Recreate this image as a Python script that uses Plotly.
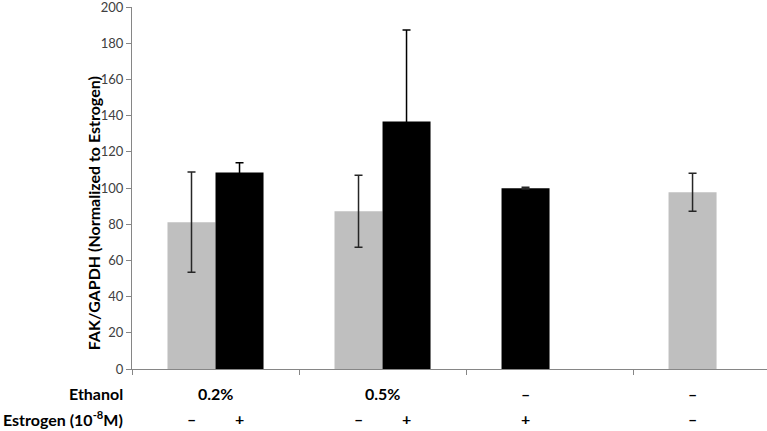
import plotly.graph_objects as go

# ---- data ----
groups = [0, 1, 2, 3]
left_vals = [81.1, 87.2, 99.9, 97.7]
left_err = [27.7, 19.9, 0.5, 10.5]
left_colors = ["#bfbfbf", "#bfbfbf", "#000000", "#bfbfbf"]
right_vals = [108.6, 136.7, None, None]
right_err = [5.3, 50.6, 0, 0]
ethanol_labels = ["0.2%", "0.5%", "–", "–"]
estrogen_left = ["–", "–", "+", "–"]
estrogen_right = ["+", "+", None, None]
y_ticks = [0, 20, 40, 60, 80, 100, 120, 140, 160, 180, 200]
y_title = "FAK/GAPDH (Normalized to Estrogen)"

FONT = "Lato"
BAR_OFF = 0.1437

fig = go.Figure()
fig.add_trace(go.Bar(
    x=groups, y=left_vals, marker=dict(color=left_colors, line=dict(width=0)),
    error_y=dict(type="data", array=left_err, visible=True, color="#262626",
                 thickness=1.5, width=4),
    showlegend=False, hoverinfo="skip"))
fig.add_trace(go.Bar(
    x=groups, y=right_vals, marker=dict(color="#000000", line=dict(width=0)),
    error_y=dict(type="data", array=right_err, visible=True, color="#000000",
                 thickness=1.5, width=4),
    showlegend=False, hoverinfo="skip"))

annotations = []
lab_font = dict(family=FONT, size=16, color="#000000")
y_eth = -0.0664
y_est = -0.1355
for g, eth, el, er in zip(groups, ethanol_labels, estrogen_left, estrogen_right):
    two = er is not None
    annotations.append(dict(x=g if two else g - BAR_OFF, y=y_eth, xref="x", yref="paper",
                            text="<b>%s</b>" % eth, showarrow=False, font=lab_font,
                            xanchor="center", yanchor="middle"))
    annotations.append(dict(x=g - BAR_OFF, y=y_est, xref="x", yref="paper",
                            text="<b>%s</b>" % el, showarrow=False, font=lab_font,
                            xanchor="center", yanchor="middle"))
    if two:
        annotations.append(dict(x=g + BAR_OFF, y=y_est, xref="x", yref="paper",
                                text="<b>%s</b>" % er, showarrow=False, font=lab_font,
                                xanchor="center", yanchor="middle"))
annotations.append(dict(x=-0.011, y=y_eth, xref="paper", yref="paper",
                        text="<b>Ethanol</b>", showarrow=False, font=lab_font,
                        xanchor="right", yanchor="middle"))
annotations.append(dict(x=-0.011, y=y_est, xref="paper", yref="paper",
                        text="<b>Estrogen (10<sup>-8</sup>M)</b>", showarrow=False, font=lab_font,
                        xanchor="right", yanchor="middle"))
annotations.append(dict(x=-0.0615, y=0.43, xref="paper", yref="paper",
                        text="<b>%s</b>" % y_title, showarrow=False, textangle=-90,
                        font=dict(family=FONT, size=16, color="#000000"),
                        xanchor="center", yanchor="middle"))

fig.update_layout(
    width=767, height=431,
    margin=dict(l=132, r=0, t=7, b=62),
    paper_bgcolor="white", plot_bgcolor="white",
    barmode="group", bargap=0.425, bargroupgap=0,
    annotations=annotations,
    xaxis=dict(range=[-0.5, 3.302], tickvals=[-0.5, 0.5, 1.5, 2.5, 3.5],
               ticks="outside", ticklen=5, tickcolor="#868686", showticklabels=False,
               showline=True, linecolor="#868686", linewidth=1, showgrid=False,
               zeroline=False),
    yaxis=dict(range=[0, 200], tickvals=y_ticks, ticks="outside", ticklen=5,
               tickcolor="#868686", showline=True, linecolor="#868686", linewidth=1,
               showgrid=False, zeroline=False, ticklabeloverflow="allow",
               tickfont=dict(family=FONT, size=13, color="#404040")),
)

fig.write_html("out.html", config={"displayModeBar": False},
               post_script="document.body.style.margin='0';document.body.style.overflow='hidden';")
